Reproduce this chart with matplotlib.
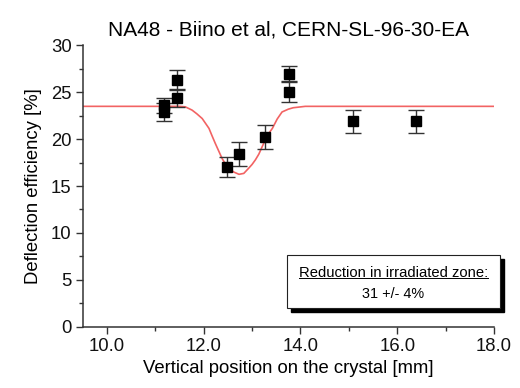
import matplotlib
matplotlib.use('Agg')
import matplotlib.pyplot as plt
from matplotlib.patches import Rectangle
from matplotlib.lines import Line2D
from matplotlib.ticker import MultipleLocator

plt.rcParams['font.family'] = ['Liberation Sans', 'DejaVu Sans']

# measured points (position [mm], efficiency [%], error [%])
pos = [11.18, 11.18, 11.44, 11.44, 12.49, 12.74, 13.27, 13.77, 13.77, 15.08, 16.39]
eff = [23.6, 22.9, 26.3, 24.4, 17.0, 18.4, 20.2, 27.0, 25.0, 21.9, 21.9]
err = [0.8, 1.0, 1.1, 1.0, 1.05, 1.3, 1.3, 0.85, 1.05, 1.25, 1.2]

# fit curve
fit_x = [9.5, 11.5, 11.62, 11.76, 11.86, 11.97, 12.11, 12.17, 12.24, 12.38, 12.45,
         12.52, 12.62, 12.73, 12.83, 12.93, 13.0, 13.07, 13.14, 13.24, 13.31, 13.42,
         13.52, 13.62, 13.75, 13.85, 14.1, 18.0]
fit_y = [23.5, 23.5, 23.45, 23.1, 22.7, 22.2, 21.15, 20.4, 19.55, 17.95, 17.35,
         16.9, 16.5, 16.25, 16.35, 16.9, 17.3, 17.8, 18.4, 19.55, 20.35, 21.15,
         22.15, 22.9, 23.2, 23.35, 23.5, 23.5]

x_ticks = [10.0, 12.0, 14.0, 16.0, 18.0]

fig = plt.figure(figsize=(5.2, 3.88), dpi=100)
ax = fig.add_axes([0.159, 0.158, 0.791, 0.725])

ax.plot(fit_x, fit_y, color='#f04848', lw=1.2, alpha=0.85, zorder=2)
ax.errorbar(pos, eff, yerr=err, fmt='s', color='black', ms=7.5,
            ecolor='#333333', elinewidth=1.0, capsize=6, capthick=1.0, zorder=3)

ax.set_xlim(9.5, 18.0)
ax.set_ylim(0, 30)
ax.set_xticks(x_ticks)
ax.set_xticklabels([f'{t:.1f}' for t in x_ticks])
ax.xaxis.set_minor_locator(MultipleLocator(1.0))
ax.yaxis.set_major_locator(MultipleLocator(5))
ax.yaxis.set_minor_locator(MultipleLocator(2.5))

for s in ['top', 'right']:
    ax.spines[s].set_visible(False)
for s in ['left', 'bottom']:
    ax.spines[s].set_color('#333333')
    ax.spines[s].set_linewidth(1.1)
ax.tick_params(which='major', direction='out', length=5, width=1.0,
               color='#333333', labelsize=13.3, labelcolor='#111111', pad=3)
ax.tick_params(which='minor', direction='out', length=3, width=1.0, color='#333333')

ax.set_xlabel('Vertical position on the crystal [mm]', fontsize=13.3, labelpad=4)
ax.set_ylabel('Deflection efficiency [%]', fontsize=13.3, labelpad=6)
ax.set_title('NA48 - Biino et al, CERN-SL-96-30-EA', fontsize=15, pad=7)

# annotation box with shadow
bx, by, bw, bh = 0.551, 0.205, 0.411, 0.137
fig.patches.append(Rectangle((bx + 0.008, by - 0.010), bw, bh, transform=fig.transFigure,
                             facecolor='black', edgecolor='black', zorder=5))
fig.patches.append(Rectangle((bx, by), bw, bh, transform=fig.transFigure,
                             facecolor='white', edgecolor='#222222', lw=0.8, zorder=6))
t1 = fig.text(bx + bw / 2, by + bh * 0.67, 'Reduction in irradiated zone:', ha='center',
              va='center', fontsize=10.6, zorder=7)
fig.text(bx + bw / 2, by + bh * 0.28, '31 +/- 4%', ha='center', va='center',
         fontsize=10.4, zorder=7)

fig.canvas.draw()
bb = t1.get_window_extent(fig.canvas.get_renderer()).transformed(fig.transFigure.inverted())
fig.lines.append(Line2D([bb.x0, bb.x1], [bb.y0 + 0.004, bb.y0 + 0.004],
                        transform=fig.transFigure, color='black', lw=0.7, zorder=7))

fig.savefig('out.png', dpi=100)
